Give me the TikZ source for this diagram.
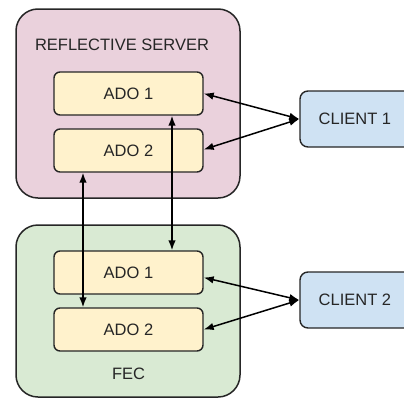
\documentclass[tikz,border=0pt]{standalone}
\usepackage{fontspec}
\setmainfont{Liberation Sans}
\usetikzlibrary{arrows.meta}
\definecolor{serverfill}{HTML}{EAD1DC}
\definecolor{fecfill}{HTML}{D9EAD3}
\definecolor{adofill}{HTML}{FFF2CC}
\definecolor{clientfill}{HTML}{CFE2F3}
\definecolor{ink}{HTML}{262626}
\tikzset{
  container/.style={draw=ink, line width=1.5pt, rounded corners=22pt,
    minimum width=224pt, inner sep=0pt},
  adobox/.style={draw=ink, line width=1.4pt, rounded corners=6pt, fill=adofill,
    minimum width=149pt, minimum height=43pt, inner sep=0pt,
    font=\fontsize{16.5}{18}\selectfont, text=ink},
  clientbox/.style={draw=ink, line width=1.4pt, rounded corners=8pt, fill=clientfill,
    minimum width=120pt, minimum height=56pt, inner sep=0pt},
  label/.style={font=\fontsize{16.5}{18}\selectfont, text=ink, inner sep=0pt},
  link/.style={line width=1.5pt, draw=black, {Latex[length=10pt,width=7.5pt]}-{Latex[length=10pt,width=7.5pt]}}
}
\begin{document}
\begin{tikzpicture}[x=1pt, y=-1pt]
  \useasboundingbox (0,0) rectangle (404,399);
  \clip (0,0) rectangle (404,399);

  % the two hosts
  \node[container, fill=serverfill, minimum height=189pt] (server) at (128,103.5) {};
  \node[container, fill=fecfill, minimum height=172pt] (fec) at (128,311) {};
  \node[label] (servername) at (122,45) {REFLECTIVE SERVER};
  \node[label] (fecname) at (128.5,374) {FEC};

  % data objects
  \node[adobox] (sa1) at (128.5,93.5) {ADO 1};
  \node[adobox] (sa2) at (128.5,150.5) {ADO 2};
  \node[adobox] (fa1) at (128.5,272.5) {ADO 1};
  \node[adobox] (fa2) at (128.5,329.5) {ADO 2};

  % clients (run past the right edge)
  \node[clientbox] (c1) at (360,119) {};
  \node[clientbox] (c2) at (360,300) {};
  \node[label, anchor=west] (c1name) at (318.5,119) {CLIENT 1};
  \node[label, anchor=west] (c2name) at (318.5,300) {CLIENT 2};

  % client links
  \draw[link] (sa1.east) -- (c1.west);
  \draw[link] ([yshift=1pt]sa2.east) -- (c1.west);
  \draw[link] ([yshift=-5pt]fa1.east) -- (c2.west);
  \draw[link] (fa2.east) -- (c2.west);

  % replication between hosts
  \draw[link] ([xshift=-45.5pt]sa2.south) -- ([xshift=-45.5pt]fa2.north);
  \draw[link] ([xshift=43.5pt]sa1.south) -- ([xshift=43.5pt]fa1.north);
\end{tikzpicture}
\end{document}
